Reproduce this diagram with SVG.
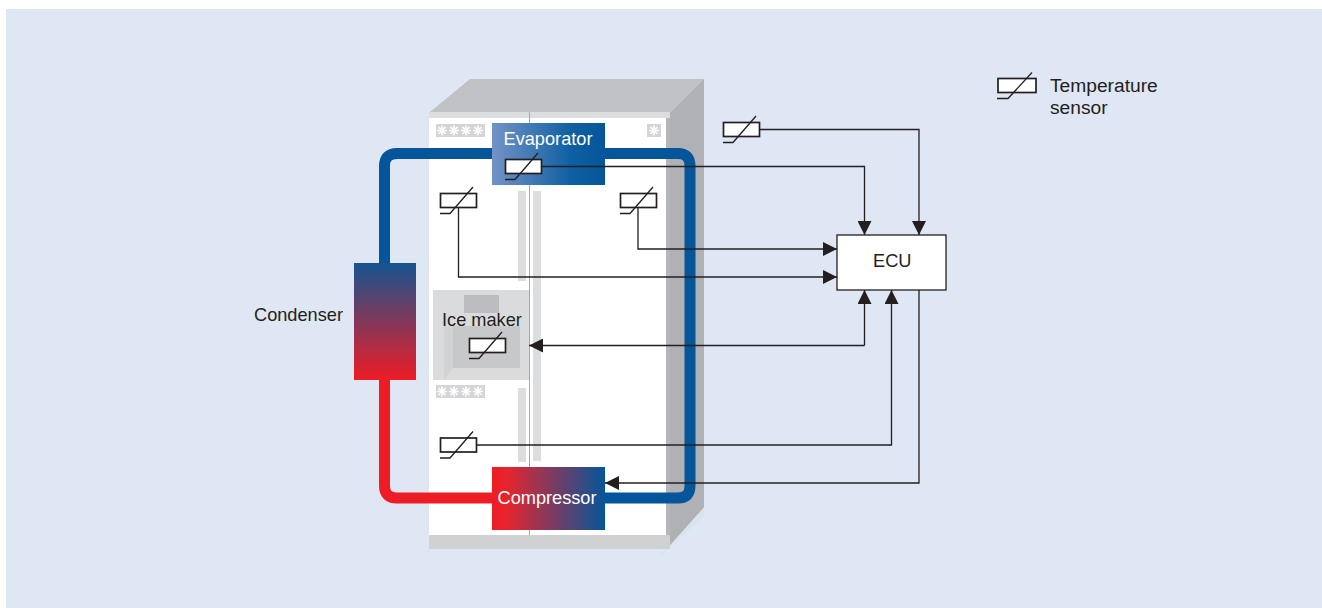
<svg xmlns="http://www.w3.org/2000/svg" xmlns:xlink="http://www.w3.org/1999/xlink" width="1322" height="608" viewBox="0 0 1322 608">
<style>
text{font-family:"Liberation Sans",Arial,sans-serif;font-size:18.2px;fill:#231f20}
.w{fill:#fff}
.pipe{fill:none;stroke-width:11;stroke-linejoin:round}
.wire{fill:none;stroke:#231f20;stroke-width:1.3}
.sb{fill:#fff;stroke:#231f20;stroke-width:1.7}
.sl{fill:none;stroke:#231f20;stroke-width:1.3}
.star{stroke:#fff;stroke-width:1.5;fill:none}
.bar{fill:#dcddde}
</style>
<defs>
<linearGradient id="gEvap"><stop offset="0" stop-color="#7393c6"/><stop offset=".7" stop-color="#0f60a2"/><stop offset="1" stop-color="#05559a"/></linearGradient>
<linearGradient id="gComp"><stop offset="0" stop-color="#ee1c25"/><stop offset=".12" stop-color="#e8242c"/><stop offset="1" stop-color="#05559a"/></linearGradient>
<linearGradient id="gCond" x1="0" y1="0" x2="0" y2="1"><stop offset="0" stop-color="#15548f"/><stop offset="1" stop-color="#ee1c25"/></linearGradient>
<marker id="arr" markerUnits="userSpaceOnUse" markerWidth="14" markerHeight="14" refX="14" refY="7" orient="auto"><path d="M0 0L14 7L0 14Z" fill="#231f20"/></marker>
<g id="sensor"><rect class="sb" x="0.5" y="0.5" width="36" height="14"/><path class="sl" d="M0 20.5H10L33 -6"/></g>
<g id="star"><path class="star" d="M-5 0H5M0 -5V5M-3.5 -3.5L3.5 3.5M-3.5 3.5L3.5 -3.5"/></g>
<g id="stars"><rect width="49" height="13" fill="#d4d5d7"/><use xlink:href="#star" href="#star" x="6" y="6.5"/><use xlink:href="#star" href="#star" x="18" y="6.5"/><use xlink:href="#star" href="#star" x="30" y="6.5"/><use xlink:href="#star" href="#star" x="42" y="6.5"/></g>
</defs>
<rect width="1322" height="608" fill="#fff"/>
<rect x="6" y="9" width="1316" height="599" fill="#dfe6f4"/>
<g id="fridge">
<path d="M658 556L670 545L704 507V516L660 556Z" fill="#d8e4ec"/>
<path d="M430 112L470 79H704L670 113Z" fill="#c1c2c5"/>
<path d="M666 118L670 113L704 79V507L670 545L666 535Z" fill="#b5b6ba"/>
<path d="M670 113L704 79V507L670 545Z" fill="#b0b1b4"/>
<rect x="429" y="112" width="241" height="6" fill="#dcddde"/>
<rect x="429" y="118" width="237" height="417" fill="#fff"/>
<rect x="429" y="535" width="241" height="14" fill="#d0d1d3"/>
<rect x="433" y="290" width="96" height="90" fill="#dadbdd"/>
<rect x="464" y="295" width="35" height="18" fill="#bcbdc0"/>
<rect x="444" y="326" width="76" height="54" fill="#d1d2d4"/>
<rect x="453" y="326" width="67" height="42" fill="#c7c8ca"/>
<path d="M444 380L453 368H520V380Z" fill="#dadbdd"/>
<rect class="bar" x="518" y="191" width="8" height="90"/>
<rect class="bar" x="533" y="191" width="8" height="270"/>
<rect class="bar" x="518" y="388" width="8" height="74"/>
<path d="M529.5 112V535" stroke="#a9aaad" stroke-width="1" fill="none"/>
<use xlink:href="#stars" href="#stars" x="436" y="124"/>
<use xlink:href="#stars" href="#stars" x="436" y="385"/>
<rect x="647" y="124" width="14" height="13" fill="#d4d5d7"/>
<use xlink:href="#star" href="#star" x="654" y="130.5"/>
</g>
<g id="pipes">
<path class="pipe" stroke="#05559a" d="M384.5 270V166Q384.5 153.5 397 153.5H678Q690 153.5 690 166V486Q690 498 678 498H600"/>
<path class="pipe" stroke="#ee1c25" d="M384.5 375V486Q384.5 498 397 498H500"/>
</g>
<g id="condenser"><rect x="354" y="263" width="62" height="117" fill="url(#gCond)"/></g>
<g id="evaporator"><rect x="492" y="123" width="113" height="62" fill="url(#gEvap)"/><text x="503.5" y="144.5" style="fill:#fff">Evaporator</text></g>
<g id="compressor"><rect x="492" y="467" width="113" height="63" fill="url(#gComp)"/><text x="497.5" y="503.5" style="fill:#fff">Compressor</text></g>
<g id="condenser-label"><text x="254" y="321">Condenser</text></g>
<g id="icemaker-label"><text x="442" y="326">Ice maker</text></g>
<g id="connectors">
<path class="wire" marker-end="url(#arr)" d="M541 166.5H864.5V235"/>
<path class="wire" marker-end="url(#arr)" d="M760 129.5H919V235"/>
<path class="wire" marker-end="url(#arr)" d="M638 207V249H837"/>
<path class="wire" marker-end="url(#arr)" d="M458.5 207V277H837"/>
<path class="wire" marker-end="url(#arr)" d="M864.5 345.5V290"/>
<path class="wire" marker-end="url(#arr)" d="M864.5 345.5H529"/>
<path class="wire" marker-end="url(#arr)" d="M476 445H891.5V290"/>
<path class="wire" marker-end="url(#arr)" d="M919 290V483H605"/>
</g>
<g id="sensor-evaporator"><use xlink:href="#sensor" href="#sensor" x="505" y="159"/></g>
<g id="sensor-left"><use xlink:href="#sensor" href="#sensor" x="440" y="193"/></g>
<g id="sensor-right"><use xlink:href="#sensor" href="#sensor" x="620" y="193"/></g>
<g id="sensor-icemaker"><use xlink:href="#sensor" href="#sensor" x="469" y="338"/></g>
<g id="sensor-lower"><use xlink:href="#sensor" href="#sensor" x="440" y="437.5"/></g>
<g id="sensor-outer"><use xlink:href="#sensor" href="#sensor" x="723" y="122"/></g>
<g id="ecu"><rect x="837" y="235" width="109" height="55" fill="#fff" stroke="#231f20" stroke-width="1.3"/><text x="873" y="267">ECU</text></g>
<g id="legend"><rect class="sb" x="998" y="78.5" width="38" height="14"/><path class="sl" d="M997 98.5H1008L1032 72.5"/><text x="1050" y="92" style="font-size:19.2px">Temperature</text><text x="1050" y="114" style="font-size:19.2px">sensor</text></g>
</svg>
